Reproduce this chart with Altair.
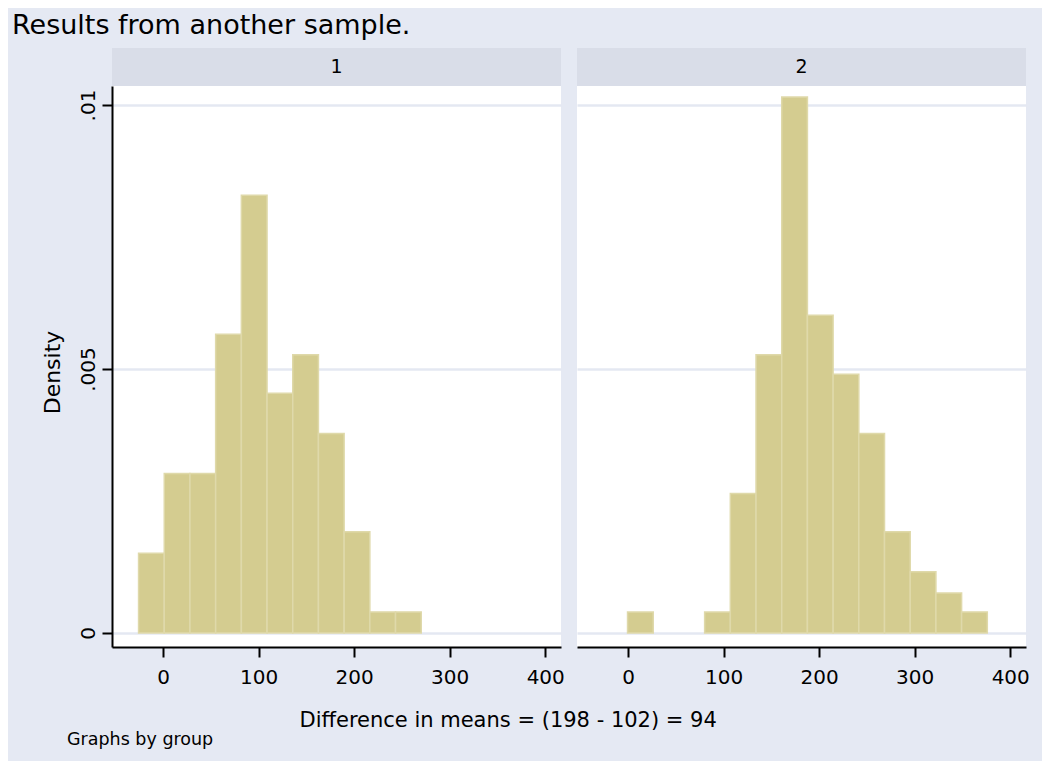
import altair as alt
import pandas as pd

# ---------------- data ----------------
group_labels = ["1", "2"]
bin_width = 26.9
g1_bin_left = [-25.7, 1.2, 28.1, 55.0, 81.9, 108.8, 135.7, 162.6, 189.5, 216.4, 243.3]
g1_density = [0.00151, 0.00302, 0.00302, 0.00566, 0.00829, 0.00454, 0.00527,
              0.00378, 0.00192, 0.00040, 0.00040]
g2_bin_left = [-0.6, 80.1, 107.0, 133.9, 160.8, 187.7, 214.6, 241.5, 268.4, 295.3, 322.2, 349.1]
g2_density = [0.00040, 0.00040, 0.00264, 0.00527, 0.01015, 0.00602, 0.00490,
              0.00378, 0.00192, 0.00116, 0.00076, 0.00040]
x_ticks = [0, 100, 200, 300, 400]
y_ticks = [0, 0.005, 0.01]
title_text = "Results from another sample."
x_title = "Difference in means = (198 - 102) = 94"
y_title = "Density"
note_text = "Graphs by group"

# ---------------- styling ----------------
FONT = "DejaVu Sans"
BG = "#e5e9f3"
HEADER = "#d9dde8"
GRID = "#e4e8f2"
BAR = "#d4cc90"
BAR_EDGE = "#dfd9aa"
X_DOMAIN = [-53.5, 416.5]
Y_DOMAIN = [-0.000265, 0.01036]
PW, PH, HH = 449, 561, 38


def make_df(lefts, dens):
    return pd.DataFrame({
        "left": lefts,
        "right": [l + bin_width for l in lefts],
        "density": dens,
    })


common_axis = dict(
    tickSize=10, tickWidth=2, tickColor="black",
    domainColor="black", domainWidth=2,
    labelFontSize=20, labelFont=FONT, labelColor="black",
    titleFont=FONT, titleColor="black", titleFontWeight="normal",
    labelFlush=False,
)


def panel(df, label, first):
    x_axis = alt.Axis(values=x_ticks, format="d", grid=False,
                      labelPadding=26, labelBaseline="alphabetic",
                      title=None, **common_axis)
    if first:
        y_axis = alt.Axis(values=y_ticks,
                          labelExpr="replace(format(datum.value, '.3~f'), '0.', '.')",
                          labelAngle=270, labelAlign="center",
                          labelBaseline="alphabetic", labelPadding=8,
                          grid=True, gridColor=GRID, gridWidth=2.5,
                          title=y_title, titleX=-53, titleY=286, titleAngle=270,
                          titleAlign="center", titleBaseline="alphabetic",
                          titleFontSize=22, **common_axis)
    else:
        y_axis = alt.Axis(values=y_ticks, labels=False, ticks=False,
                          domain=False, grid=True, gridColor=GRID,
                          gridWidth=2.5, title=None)

    plot = alt.Chart(df).mark_rect(
        fill=BAR, stroke=BAR_EDGE, strokeWidth=1.5
    ).encode(
        x=alt.X("left:Q", scale=alt.Scale(domain=X_DOMAIN, nice=False, zero=False), axis=x_axis),
        x2="right:Q",
        y=alt.Y("density:Q", scale=alt.Scale(domain=Y_DOMAIN, nice=False, zero=False), axis=y_axis),
        y2=alt.datum(0),
    ).properties(width=PW, height=PH, view=alt.ViewBackground(fill="white", strokeWidth=0))

    header = alt.Chart(pd.DataFrame({"label": [label]})).mark_text(
        font=FONT, fontSize=19, color="black", baseline="middle", align="center"
    ).encode(text="label:N").properties(
        width=PW, height=HH, view=alt.ViewBackground(fill=HEADER, strokeWidth=0)
    )
    return alt.vconcat(header, plot, spacing=0, bounds="flush")


p1 = panel(make_df(g1_bin_left, g1_density), group_labels[0], True)
p2 = panel(make_df(g2_bin_left, g2_density), group_labels[1], False)

body = alt.hconcat(p1, p2, spacing=12).properties(
    title=alt.TitleParams(x_title, orient="bottom", anchor="middle", fontSize=21,
                          font=FONT, fontWeight="normal", color="black",
                          offset=23, dx=-27)
)
mid = alt.vconcat(body).properties(
    title=alt.TitleParams(note_text, orient="bottom", anchor="start", fontSize=17.5,
                          font=FONT, fontWeight="normal", color="black",
                          offset=0, dx=26)
)
chart = alt.vconcat(mid).properties(
    title=alt.TitleParams(title_text, anchor="start", fontSize=27, font=FONT,
                          fontWeight="normal", color="black", offset=8, dx=-29),
    background=BG,
    padding={"left": 4, "right": 12, "top": 4, "bottom": 12},
).configure_view(strokeWidth=0)

chart.save("out.html", embed_options={"renderer": "svg", "actions": False})
